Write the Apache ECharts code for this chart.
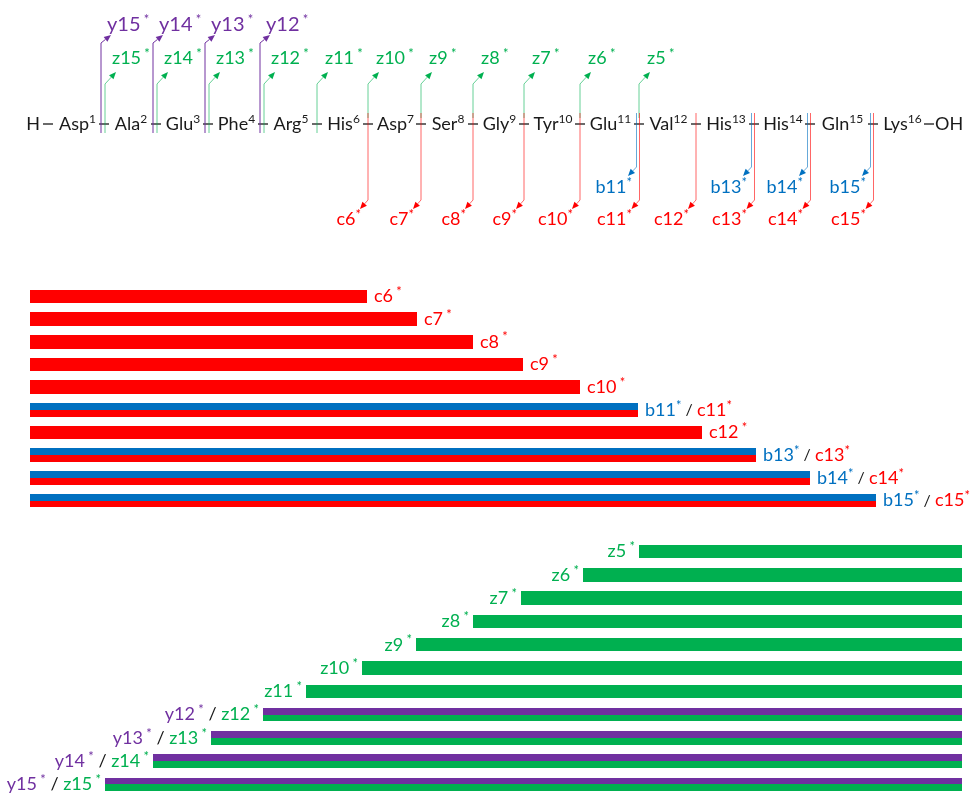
<!DOCTYPE html>
<html>
<head>
<meta charset="utf-8">
<script src="https://cdn.jsdelivr.net/npm/echarts@6/dist/echarts.min.js"></script>
<style>
  html, body { margin: 0; padding: 0; background: #fff; }
  #main { width: 970px; height: 796px; }
</style>
</head>
<body>
<div id="main"></div>
<script>
// peptide, residue 1..16
var residues = ['Asp','Ala','Glu','Phe','Arg','His','Asp','Ser','Gly','Tyr','Glu','Val','His','His','Gln','Lys'];
// where each peptide bond sits on the sequence scale (bond n is between residue n and n+1)
var bondPos = [103,155,207,262,316,367,420,472,523,579,638,695,753,809,872];
var nTermPos = 48, cTermPos = 929;

// fragments observed
var yFrags = [12,13,14,15];
var zFrags = [5,6,7,8,9,10,11,12,13,14,15];
var bFrags = [11,13,14,15];
var cFrags = [6,7,8,9,10,11,12,13,14,15];

// N-terminal fragment bars (c / b)
var cRows = ['c6','c7','c8','c9','c10','c11','c12','c13','c14','c15'];
var cEnd  = [367,417,473,523,580,638,702,756,810,876];
var bEnd  = [0,0,0,0,0,638,0,756,810,876];
var nStart = 30;

// C-terminal fragment bars (z / y)
var zRows  = ['z5','z6','z7','z8','z9','z10','z11','z12','z13','z14','z15'];
var zStart = [639,583,521,473,416,362,306,263,211,153,105];
var yStart = [0,0,0,0,0,0,0,263,211,153,105];
var cEndPos = 962;

var RED = '#FF0000', BLUE = '#0070C0', GREEN = '#00B050', PURPLE = '#7030A0', INK = '#1a1a1a';
var FONT = 'Lato, "Open Sans", sans-serif';
var SEQ_Y = 124;

function tok(color, size, lh, top) {
  return { fill: color, color: color, fontSize: size, fontFamily: FONT, lineHeight: lh, verticalAlign: top ? 'top' : 'middle' };
}
var rich = {
  k: tok(INK, 18, 22), ks: tok(INK, 12, 16, true), sl: tok(INK, 16, 22),
  r: tok(RED, 18, 22), rs: tok(RED, 13, 14, true),
  b: tok(BLUE, 18, 22), bs: tok(BLUE, 13, 14, true),
  g: tok(GREEN, 18, 22), gs: tok(GREEN, 13, 14, true),
  p: tok(PURPLE, 18, 22), ps: tok(PURPLE, 13, 14, true),
  P: tok(PURPLE, 20, 24), Ps: tok(PURPLE, 13, 14, true)
};

function text(x, y, str, align) {
  return { type: 'text', x: x, y: y, style: { text: str, rich: rich, align: align, verticalAlign: 'middle' } };
}

function arrow(pts, color, op) {
  var a = pts[pts.length - 2], b = pts[pts.length - 1];
  var ang = Math.atan2(b[1] - a[1], b[0] - a[0]);
  var L = 7, W = 3;
  var bx = b[0] - L * Math.cos(ang), by = b[1] - L * Math.sin(ang);
  var px = -Math.sin(ang) * W, py = Math.cos(ang) * W;
  var line = pts.slice(0, -1).concat([[bx, by]]);
  return [
    { type: 'polyline', shape: { points: line }, style: { stroke: color, lineWidth: 1, fill: null, opacity: op } },
    { type: 'polygon', shape: { points: [b, [bx + px, by + py], [bx - px, by - py]] }, style: { fill: color } }
  ];
}

function dash(api, x) {
  var p1 = api.coord([x - 5, SEQ_Y]), p2 = api.coord([x + 5, SEQ_Y]);
  return { type: 'line', shape: { x1: p1[0], y1: p1[1], x2: p2[0], y2: p2[1] }, style: { stroke: INK, lineWidth: 1.3 } };
}

function rect(x, y, w, h, color) {
  var y0 = Math.round(y), y1 = Math.round(y + h);
  return { type: 'rect', shape: { x: Math.round(x), y: y0, width: Math.round(w), height: y1 - y0 }, style: { fill: color } };
}

var edges = [nTermPos].concat(bondPos, [cTermPos]);
var resData = residues.map(function (r, i) { return [(edges[i] + edges[i + 1]) / 2 + 2, SEQ_Y, i]; });
var bondData = bondPos.map(function (x, i) { return [x, SEQ_Y, i + 1]; });

var chart = echarts.init(document.getElementById('main'));
chart.setOption({
  animation: false,
  backgroundColor: '#fff',
  grid: [
    { left: 0, top: 0, width: 970, height: 230 },
    { left: 0, top: 285, width: 970, height: 227 },
    { left: 0, top: 540, width: 970, height: 256 }
  ],
  xAxis: [0, 1, 2].map(function (g) { return { type: 'value', gridIndex: g, min: 0, max: 970, show: false }; }),
  yAxis: [
    { type: 'value', gridIndex: 0, min: 0, max: 230, inverse: true, show: false },
    { type: 'category', gridIndex: 1, data: cRows, inverse: true, show: false },
    { type: 'category', gridIndex: 2, data: zRows, inverse: true, show: false }
  ],
  series: [
    {
      // residues
      type: 'custom', xAxisIndex: 0, yAxisIndex: 0, data: resData, encode: { x: 0, y: 1 },
      renderItem: function (params, api) {
        var p = api.coord([api.value(0), api.value(1)]);
        var i = api.value(2);
        return text(p[0], p[1], '{k|' + residues[i] + '}{ks|' + (i + 1) + '}', 'center');
      }
    },
    {
      // termini
      type: 'custom', xAxisIndex: 0, yAxisIndex: 0, data: [[nTermPos, SEQ_Y, 0], [cTermPos, SEQ_Y, 1]], encode: { x: 0, y: 1 },
      renderItem: function (params, api) {
        var x = api.value(0), left = api.value(2) === 0;
        var p = api.coord([left ? x - 8 : x + 6, SEQ_Y]);
        return { type: 'group', children: [
          dash(api, x),
          text(p[0], p[1], '{k|' + (left ? 'H' : 'OH') + '}', left ? 'right' : 'left')
        ] };
      }
    },
    {
      // bonds + fragment arrows
      type: 'custom', xAxisIndex: 0, yAxisIndex: 0, data: bondData, encode: { x: 0, y: 1 },
      renderItem: function (params, api) {
        var B = api.value(0), n = api.value(2), m = 16 - n;
        var P = function (x, y) { return api.coord([x, y]); };
        var kids = [dash(api, B + 1)];
        var hasY = yFrags.indexOf(m) >= 0, hasZ = zFrags.indexOf(m) >= 0;
        var hasB = bFrags.indexOf(n) >= 0, hasC = cFrags.indexOf(n) >= 0;
        if (hasY) {
          kids = kids.concat(arrow([P(B - 2, 133), P(B - 2, 43), P(B + 8, 35)], PURPLE, 1));
          var t = P(B + 4, 25);
          kids.push(text(t[0], t[1], '{P|y' + m + '}{Ps| *}', 'left'));
        }
        if (hasZ) {
          var zx = hasY ? B + 2 : B + 1;
          kids = kids.concat(arrow([P(zx, hasC ? 118 : 133), P(zx, 84), P(zx + 11, 72)], GREEN, 0.6));
          var tz = P(B + 9, 58);
          kids.push(text(tz[0], tz[1], '{g|z' + m + '}{gs| *}', 'left'));
        }
        if (hasB) {
          kids = kids.concat(arrow([P(B - 1.5, 113), P(B - 1.5, 167), P(B - 10, 176)], BLUE, 0.6));
          var tb = P(B - 6, 187);
          kids.push(text(tb[0], tb[1], '{b|b' + n + '}{bs|*}', 'right'));
        }
        if (hasC) {
          var cx = hasB ? B + 1.5 : B + 1;
          kids = kids.concat(arrow([P(cx, 113), P(cx, 200), P(cx - 8, 209)], RED, 0.6));
          var tc = P(B - 6, 219);
          kids.push(text(tc[0], tc[1], '{r|c' + n + '}{rs|*}', 'right'));
        }
        return { type: 'group', children: kids };
      }
    },
    {
      // c / b bars
      type: 'custom', xAxisIndex: 1, yAxisIndex: 1,
      data: cRows.map(function (l, i) { return [i, cEnd[i], bEnd[i]]; }),
      encode: { y: 0, x: [1, 2] },
      renderItem: function (params, api) {
        var i = api.value(0), cE = api.value(1), bE = api.value(2);
        var p0 = api.coord([nStart, i]), pc = api.coord([cE, i]);
        var h = api.size([0, 1])[1] * 0.6;
        var kids = [];
        var n = cRows[i].slice(1), label;
        if (bE > 0) {
          var pb = api.coord([bE, i]);
          kids.push(rect(p0[0], p0[1] - h / 2, pb[0] - p0[0], h / 2, BLUE));
          kids.push(rect(p0[0], p0[1], pc[0] - p0[0], h / 2, RED));
          label = '{b|b' + n + '}{bs|*}{sl| / }{r|c' + n + '}{rs|*}';
        } else {
          kids.push(rect(p0[0], p0[1] - h / 2, pc[0] - p0[0], h, RED));
          label = '{r|c' + n + '}{rs| *}';
        }
        var xe = api.coord([Math.max(cE, bE), i])[0];
        kids.push(text(xe + 7, p0[1], label, 'left'));
        return { type: 'group', children: kids };
      }
    },
    {
      // z / y bars
      type: 'custom', xAxisIndex: 2, yAxisIndex: 2,
      data: zRows.map(function (l, i) { return [i, zStart[i], yStart[i]]; }),
      encode: { y: 0, x: [1, 2] },
      renderItem: function (params, api) {
        var i = api.value(0), zS = api.value(1), yS = api.value(2);
        var pe = api.coord([cEndPos, i]), pz = api.coord([zS, i]);
        var h = api.size([0, 1])[1] * 0.58;
        var kids = [];
        var n = zRows[i].slice(1), label;
        if (yS > 0) {
          var py = api.coord([yS, i]);
          kids.push(rect(py[0], pe[1] - h / 2, pe[0] - py[0], h / 2, PURPLE));
          kids.push(rect(pz[0], pe[1], pe[0] - pz[0], h / 2, GREEN));
          label = '{p|y' + n + '}{ps| *}{k| / }{g|z' + n + '}{gs| *}';
        } else {
          kids.push(rect(pz[0], pe[1] - h / 2, pe[0] - pz[0], h, GREEN));
          label = '{g|z' + n + '}{gs| *}';
        }
        var xs = api.coord([yS > 0 ? Math.min(zS, yS) : zS, i])[0];
        kids.push(text(xs - 4, pe[1], label, 'right'));
        return { type: 'group', children: kids };
      }
    }
  ]
});
</script>
</body>
</html>
